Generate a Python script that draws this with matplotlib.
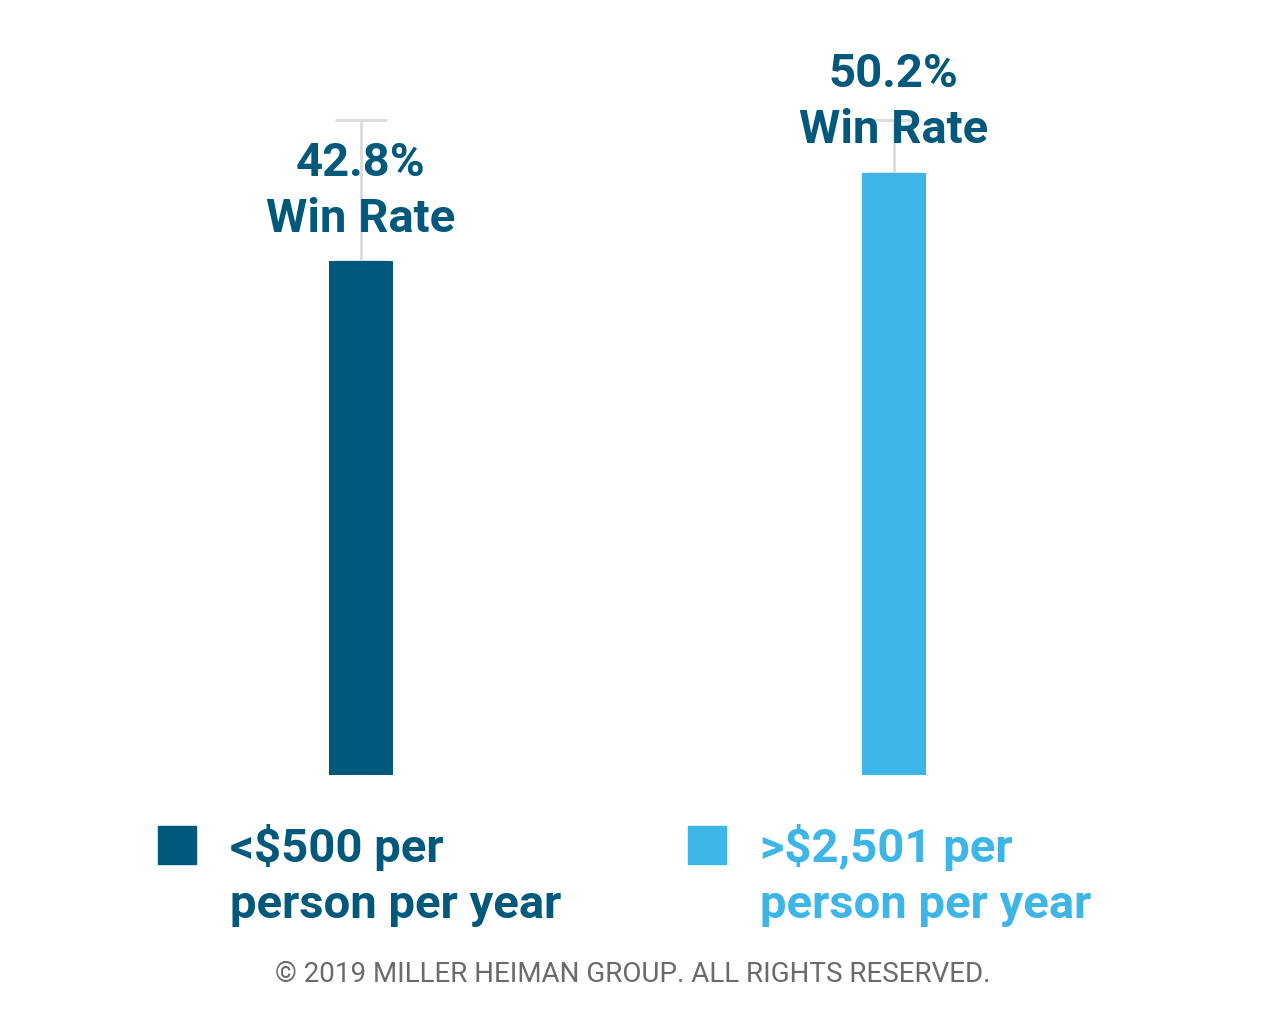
import matplotlib.pyplot as plt
from matplotlib.patches import Rectangle

groups = ['<$500 per\nperson per year', '>$2,501 per\nperson per year']
win_rate = [42.8, 50.2]
upper = [54.6, 54.6]
colors = ['#00587a', '#3db5e6']
footer = '\u00a9 2019 MILLER HEIMAN GROUP. ALL RIGHTS RESERVED.'

W, H = 1267, 1032
fig = plt.figure(figsize=(W / 100, H / 100), dpi=100)
ax = fig.add_axes([0, 1 - 775 / H, 1, 660 / H])
ax.set_xlim(-361 / 532.5, (W - 361) / 532.5)
ax.set_ylim(0, 55)
ax.axis('off')

x = range(len(win_rate))
err = [[0] * len(win_rate), [u - v for u, v in zip(upper, win_rate)]]
ax.errorbar(x, win_rate, yerr=err, fmt='none', ecolor='#d9dde0',
            elinewidth=2, capsize=18.5, capthick=2, zorder=1)
ax.bar(x, win_rate, width=64 / 532.5, color=colors, zorder=2)

for i, v in enumerate(win_rate):
    ax.annotate(f'{v}%\nWin Rate', (i, v), xytext=(0, 15), textcoords='offset points',
                ha='center', va='bottom', fontsize=34, fontweight='bold',
                family='Roboto', color='#00587a', linespacing=1.33, zorder=3)

# legend drawn by hand
sq = 38
for i, (lab, c) in enumerate(zip(groups, colors)):
    x0 = [158, 688][i]
    fig.add_artist(Rectangle((x0 / W, 1 - 864 / H), sq / W, sq / H,
                             transform=fig.transFigure, color=c))
    fig.text((x0 + 72) / W, 1 - 824 / H, lab, ha='left', va='top',
             fontsize=34, fontweight='bold', family='Roboto', color=c,
             linespacing=1.33)

fig.text(633 / W, 1 - 975 / H, footer, ha='center', va='center',
         fontsize=20, family='Roboto', color='#6a6a6a')

fig.savefig('out.png', dpi=100)
